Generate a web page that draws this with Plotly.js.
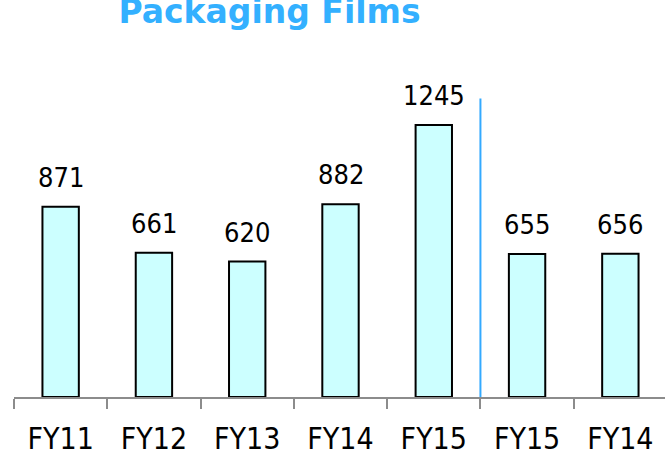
<!DOCTYPE html>
<html>
<head>
<meta charset="utf-8">
<script src="https://cdn.plot.ly/plotly-3.0.1.min.js"></script>
<style>
html, body { margin: 0; padding: 0; overflow: hidden; background: #fff; }
#chart { width: 667px; height: 457px; }
</style>
</head>
<body>
<div id="chart"></div>
<script>
// Data
const categories = ['FY11', 'FY12', 'FY13', 'FY14', 'FY15', 'FY15b', 'FY14b'];
const tickLabels = ['FY11', 'FY12', 'FY13', 'FY14', 'FY15', 'FY15', 'FY14'];
const values = [871, 661, 620, 882, 1245, 655, 656];
const chartTitle = 'Packaging Films';

const labelFont = 'DejaVu Sans Condensed, DejaVu Sans, sans-serif';

const trace = {
  type: 'bar',
  x: categories,
  y: values,
  width: 0.39,
  marker: { color: '#ccffff', line: { color: '#000000', width: 2 } },
  hoverinfo: 'none'
};

const annotations = categories.map((c, i) => ({
  x: c, y: values[i], xref: 'x', yref: 'y',
  text: String(values[i]),
  showarrow: false, yanchor: 'bottom', xanchor: 'center', yshift: 12,
  font: { family: labelFont, size: 27, color: '#000000' }
}));

const layout = {
  width: 667, height: 457,
  margin: { l: 14, r: 0, t: 60, b: 60 },
  paper_bgcolor: '#ffffff', plot_bgcolor: '#ffffff',
  showlegend: false,
  title: {
    text: '<b>' + chartTitle + '</b>',
    font: { family: 'DejaVu Sans, sans-serif', size: 33, color: '#33b0ff' },
    xref: 'container', yref: 'container',
    x: 269.5 / 667, xanchor: 'center',
    y: 1 - 23 / 457, yanchor: 'bottom'
  },
  xaxis: {
    type: 'category',
    range: [-0.5, 6.5],
    tickmode: 'array', tickvals: categories, ticktext: tickLabels,
    tickson: 'boundaries',
    ticks: 'outside', ticklen: 10, tickwidth: 2, tickcolor: '#8c8c8c',
    ticklabelstandoff: 14,
    showline: true, linecolor: '#8c8c8c', linewidth: 2,
    showgrid: false, zeroline: false,
    tickfont: { family: labelFont, size: 30, color: '#000000' },
    fixedrange: true
  },
  yaxis: {
    range: [0, 1543],
    visible: false, showgrid: false, zeroline: false, fixedrange: true
  },
  shapes: [{
    type: 'line', xref: 'x', yref: 'y',
    x0: 4.5, x1: 4.5, y0: 0, y1: 1367,
    line: { color: '#33aaff', width: 2 }
  }],
  annotations: annotations
};

Plotly.newPlot('chart', [trace], layout, { displayModeBar: false, staticPlot: true });
</script>
</body>
</html>
